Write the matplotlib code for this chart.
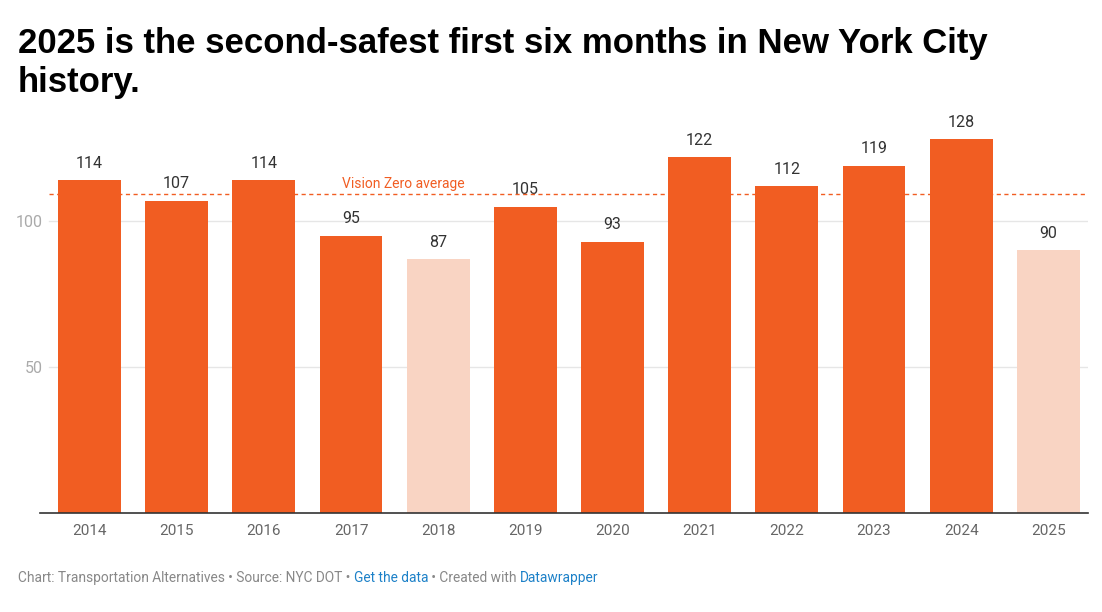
import matplotlib
matplotlib.use("Agg")
import matplotlib.pyplot as plt

years = ["2014", "2015", "2016", "2017", "2018", "2019", "2020", "2021", "2022", "2023", "2024", "2025"]
values = [114, 107, 114, 95, 87, 105, 93, 122, 112, 119, 128, 90]
highlight = [False, False, False, False, True, False, False, False, False, False, False, True]
vz_average = 109.2
y_ticks = [50, 100]
title_lines = ["2025 is the second-safest first six months in New York City", "history."]

ORANGE = "#F15D22"
LIGHT = "#F9D4C3"

W, H = 1102, 612
fig = plt.figure(figsize=(W / 100, H / 100), dpi=100)
ax = fig.add_axes([40 / W, 99 / H, (1088 - 40) / W, (513 - 119) / H])

x = list(range(len(years)))
colors = [LIGHT if h else ORANGE for h in highlight]
ax.bar(x, values, width=0.72, color=colors, zorder=2)
ax.set_xlim(-0.568, len(years) - 0.545)
ax.set_ylim(0, 135)

for xi, v in zip(x, values):
    ax.text(xi, v + 3.2, str(v), ha="center", va="bottom", fontsize=11.5,
            family="Roboto", color="#333333")

ax.set_yticks(y_ticks)
ax.set_yticklabels([str(t) for t in y_ticks], family="Roboto", fontsize=11.5, color="#aaaaaa")
for t in y_ticks:
    ax.axhline(t, xmin=0.009, color="#e6e6e6", lw=1, zorder=0)
ax.tick_params(axis="y", length=0, pad=-2)
ax.tick_params(axis="x", length=0, pad=8)
ax.set_xticks(x)
ax.set_xticklabels(years, family="Roboto", fontsize=11, color="#666666")

for s in ["top", "right", "left"]:
    ax.spines[s].set_visible(False)
ax.spines["bottom"].set_color("#333333")
ax.spines["bottom"].set_linewidth(1.2)

ax.axhline(vz_average, xmin=0.009, color=ORANGE, lw=1, ls=(0, (3, 2.5)), zorder=3)
ax.text(2.9, vz_average + 1.3, "Vision Zero average", ha="left", va="bottom",
        fontsize=10, family="Roboto", color=ORANGE)

for line, base in zip(title_lines, [53, 92]):
    fig.text(18 / W, 1 - base / H, line, ha="left", va="baseline", fontsize=25,
             fontweight="bold", family="Liberation Sans", color="#000000")

# footer
parts = [("Chart: Transportation Alternatives • Source: NYC DOT • ", "#888888"),
         ("Get the data", "#1d81c8"),
         (" • Created with ", "#888888"),
         ("Datawrapper", "#1d81c8")]
fig.canvas.draw()
renderer = fig.canvas.get_renderer()
xpos = 18
for txt, col in parts:
    t = fig.text(xpos / W, 1 - 582 / H, txt, ha="left", va="baseline", fontsize=9.9,
                 family="Roboto", color=col)
    bb = t.get_window_extent(renderer=renderer)
    xpos += bb.width

fig.savefig("out.png", dpi=100)
